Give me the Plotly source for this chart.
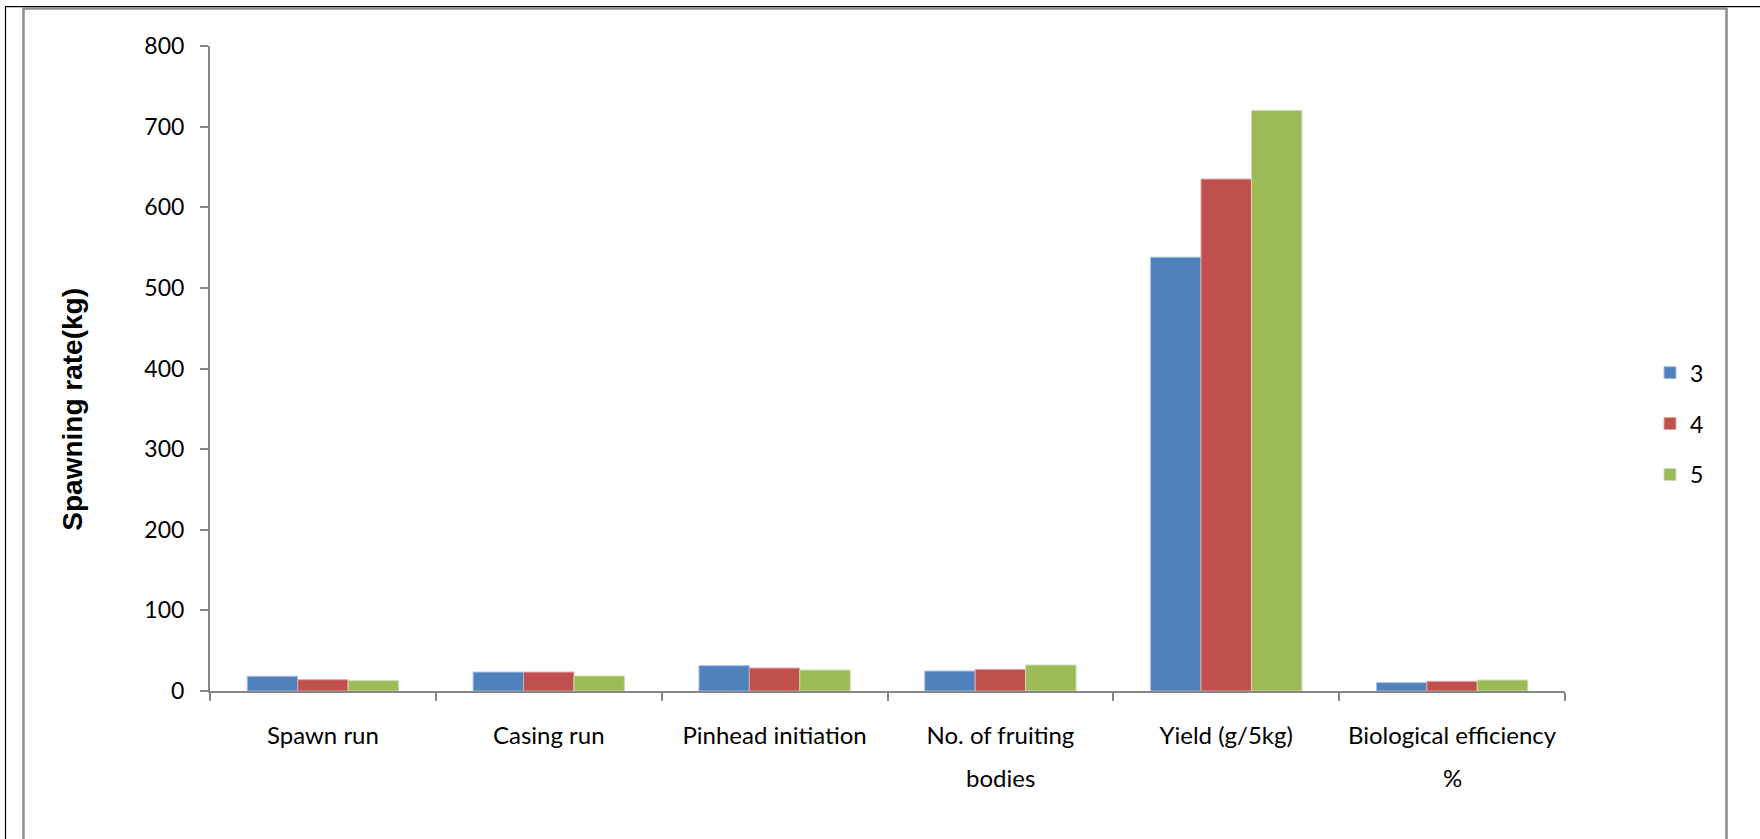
import plotly.graph_objects as go

# Growth parameters per spawning rate
categories = [
    "Spawn run",
    "Casing run",
    "Pinhead initiation",
    "No. of fruiting bodies",
    "Yield (g/5kg)",
    "Biological efficiency %",
]
# category labels split into their two printed lines
label_line1 = ["Spawn run", "Casing run", "Pinhead initiation",
               "No. of fruiting", "Yield (g/5kg)", "Biological efficiency"]
label_line2 = ["", "", "", "bodies", "", "%"]
series_names = ["3", "4", "5"]
rate_3 = [18.2, 23.5, 31.4, 24.8, 538, 10.3]
rate_4 = [14.0, 23.5, 28.5, 26.8, 635, 12.0]
rate_5 = [12.8, 18.6, 26.0, 32.2, 720, 13.6]
y_ticks = [0, 100, 200, 300, 400, 500, 600, 700, 800]
y_title = "Spawning rate(kg)"

colors = ["#4F81BD", "#C0504D", "#9BBB59"]
edge_colors = ["#A9C0DE", "#DFA8A6", "#CDDDAC"]

W, H = 1760, 839
L, R, T, B = 210, 195, 46, 147.5
plot_w = W - L - R
plot_h = H - T - B

fig = go.Figure()
for i, (name, vals) in enumerate(zip(series_names, [rate_3, rate_4, rate_5])):
    fig.add_trace(go.Bar(
        x=categories,
        y=vals,
        name=name,
        legendgroup=name,
        marker=dict(color=colors[i], line=dict(color=edge_colors[i], width=1)),
    ))

axis_grey = "#868686"
label_family = "Lato, 'Open Sans', sans-serif"
cat_font = dict(family=label_family, size=24, color="#000000")
num_font = dict(family=label_family, size=23, color="#000000")


def px_x(px):
    return (px - L) / plot_w


def px_y(py):
    return (H - B - py) / plot_h


frame_shapes = [
    # outer black frame (top and left)
    dict(type="line", x0=px_x(5), x1=px_x(W + 5), y0=px_y(6.5), y1=px_y(6.5),
         line=dict(color="#000000", width=1.2)),
    dict(type="line", x0=px_x(5.5), x1=px_x(5.5), y0=px_y(6), y1=px_y(H + 5),
         line=dict(color="#000000", width=1.2)),
    # inner grey frame
    dict(type="line", x0=px_x(23), x1=px_x(1727), y0=px_y(8.5), y1=px_y(8.5),
         line=dict(color="#8C8C8C", width=2.5)),
    dict(type="line", x0=px_x(23.5), x1=px_x(23.5), y0=px_y(8), y1=px_y(H + 5),
         line=dict(color="#8C8C8C", width=2.5)),
    dict(type="line", x0=px_x(1726.5), x1=px_x(1726.5), y0=px_y(8), y1=px_y(H + 5),
         line=dict(color="#8C8C8C", width=2.5)),
]
for s in frame_shapes:
    s.update(xref="paper", yref="paper", layer="above")

annotations = []
# second lines of the wrapped category labels
for cat, line2 in zip(categories, label_line2):
    if line2:
        annotations.append(dict(
            x=cat, xref="x", y=px_y(778), yref="paper",
            text=line2, showarrow=False, font=cat_font,
            xanchor="center", yanchor="middle",
        ))
# rotated value-axis title
annotations.append(dict(
    x=px_x(73), xref="paper", y=px_y(410), yref="paper",
    text="<b>" + y_title + "</b>", textangle=-90, showarrow=False,
    font=dict(family="Liberation Sans, Arial, sans-serif", size=28, color="#000000"),
    xanchor="center", yanchor="middle",
))

fig.update_layout(
    width=W,
    height=H,
    margin=dict(l=L, r=R, t=T, b=B, pad=0),
    paper_bgcolor="#FFFFFF",
    plot_bgcolor="#FFFFFF",
    barmode="group",
    bargap=0.33,
    bargroupgap=0,
    showlegend=True,
    legend=dict(
        x=px_x(1650),
        xanchor="left",
        y=px_y(424),
        yanchor="middle",
        font=num_font,
        traceorder="grouped",
        tracegroupgap=18,
        bgcolor="rgba(0,0,0,0)",
    ),
    shapes=frame_shapes,
    annotations=annotations,
    xaxis=dict(
        type="category",
        tickvals=categories,
        ticktext=label_line1,
        showline=True,
        linecolor=axis_grey,
        linewidth=2,
        ticks="outside",
        tickson="boundaries",
        ticklen=8,
        tickwidth=2,
        tickcolor=axis_grey,
        ticklabelstandoff=22,
        tickfont=cat_font,
        showgrid=False,
        zeroline=False,
        automargin=False,
    ),
    yaxis=dict(
        range=[0, 800],
        tickvals=y_ticks,
        showline=True,
        linecolor=axis_grey,
        linewidth=2,
        ticks="outside",
        ticklen=8,
        tickwidth=2,
        tickcolor=axis_grey,
        ticklabelstandoff=11,
        tickfont=num_font,
        showgrid=False,
        zeroline=False,
        automargin=False,
    ),
)

fig.write_html("out.html")
